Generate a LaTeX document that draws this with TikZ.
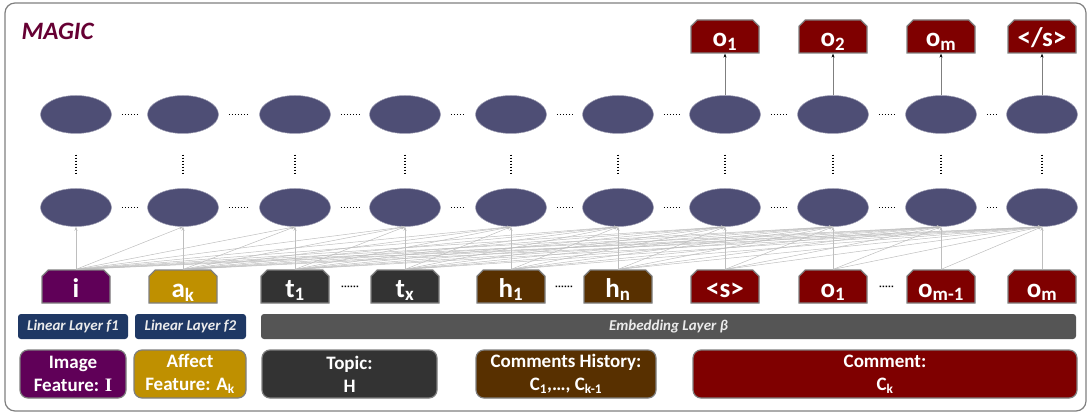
\documentclass[tikz,border=0pt]{standalone}
\usepackage{fontspec}
\setmainfont{Carlito}
\newfontfamily\serifI{Liberation Serif}
\usetikzlibrary{shapes.geometric}
\usetikzlibrary{shapes.misc}
\usetikzlibrary{arrows.meta}
\definecolor{cellfill}{RGB}{78,78,117}
\definecolor{imgcol}{RGB}{96,0,88}
\definecolor{affcol}{RGB}{191,144,0}
\definecolor{topcol}{RGB}{51,51,51}
\definecolor{histcol}{RGB}{88,48,0}
\definecolor{comcol}{RGB}{127,0,0}
\definecolor{lincol}{RGB}{31,56,100}
\definecolor{embcol}{RGB}{85,85,85}
\definecolor{framecol}{RGB}{127,127,127}
\definecolor{titlecol}{RGB}{102,0,51}
\definecolor{linkcol}{RGB}{190,190,190}
\newcommand{\sub}[1]{\textsubscript{#1}}
\tikzset{%
  cell/.style = {ellipse,fill=cellfill,draw=cellfill!55!white,line width=0.5,
        minimum width=71,minimum height=38,inner sep=0},
  tok/.style = {chamfered rectangle,
        chamfered rectangle corners={north west,north east},
        chamfered rectangle xsep=3,draw=framecol,line width=1.2,
        minimum width=68,minimum height=33,inner sep=0,text=white,
        text height=22,text depth=1,
        font=\bfseries\fontsize{27}{29}\selectfont},
  lin/.style = {rectangle,rounded corners=3,fill=lincol,minimum height=25,
        inner sep=0,text=white!92!black,
        font=\bfseries\itshape\fontsize{15}{17}\selectfont},
  emb/.style = {lin,fill=embcol},
  src/.style = {rectangle,rounded corners=8,draw=framecol,line width=1.2,
        minimum height=48,inner sep=0,text=white,align=center,
        font=\bfseries\fontsize{19}{23}\selectfont},
  link/.style = {linkcol,line width=0.5,-{Stealth[length=4,width=3]}},
  outarrow/.style = {framecol,line width=0.7,-{Stealth[length=4,width=3,black]}},
  hdots/.style = {line width=1.5,dash pattern=on 1.5 off 1.5,
        shorten <=10,shorten >=10},
  vdots/.style = {line width=1.5,dash pattern=on 1.5 off 1.5,
        shorten <=21,shorten >=15}
}

\begin{document}
\begin{tikzpicture}[x=1pt,y=-1pt]
    \useasboundingbox (0,0) rectangle (1089,414);
    \draw[framecol,line width=1.2,rounded corners=10] (5,3) rectangle (1086,411);
    \node[anchor=west,text=titlecol,font=\bfseries\itshape\fontsize{25}{27}\selectfont]
        (magic) at (18,31) {MAGIC};
    % two layers of cells
    \foreach \x [count=\i] in {76,183,295,405,511,618,725,833,941,1042} {
        \node[cell] (u\i) at (\x,114.5) {};
        \node[cell] (b\i) at (\x,207.5) {};
        \draw[vdots] (u\i) -- (b\i);
    }
    \foreach \i [evaluate=\i as \j using int(\i+1)] in {1,...,9} {
        \draw[hdots] (u\i) -- (u\j);
        \draw[hdots] (b\i) -- (b\j);
    }
    % input tokens
    \foreach \x/\lab/\col [count=\i] in {76/i/imgcol, 183/a\sub{k}/affcol,
            295/t\sub{1}/topcol, 405/t\sub{x}/topcol, 511/h\sub{1}/histcol,
            618/h\sub{n}/histcol, 725/<s>/comcol, 833/o\sub{1}/comcol,
            941/o\sub{m-1}/comcol, 1042/o\sub{m}/comcol} {
        \node[tok,fill=\col] (in\i) at (\x,286.5) {\lab};
    }
    \draw[hdots,shorten <=12,shorten >=12] (in3) -- (in4);
    \draw[hdots,shorten <=10,shorten >=10] (in5) -- (in6);
    \draw[hdots,shorten <=12,shorten >=12] (in8) -- (in9);
    % each token feeds its own cell and all cells after it
    \foreach \i in {1,...,10} {
        \foreach \j in {\i,...,10} {
            \draw[link] (in\i.north) -- (b\j.south);
        }
    }
    % outputs
    \foreach \x/\lab/\k in {725/o\sub{1}/7, 833/o\sub{2}/8,
            941/o\sub{m}/9, 1042/{</s>}/10} {
        \node[tok,fill=comcol] (out\k) at (\x,36.5) {\lab};
        \draw[outarrow] (u\k) -- (out\k);
    }
    % layers
    \node[lin,minimum width=110] (f1) at (73,326.5) {Linear Layer f1};
    \node[lin,minimum width=111] (f2) at (190.5,326.5) {Linear Layer f2};
    \node[emb,minimum width=815] (beta) at (668.5,326.5) {Embedding Layer β};
    % sources
    \node[src,fill=imgcol,minimum width=106] (img) at (73,374) {Image\\Feature: {\serifI I}};
    \node[src,fill=affcol,minimum width=112] (aff) at (190,374) {Affect\\Feature: A\sub{k}};
    \node[src,fill=topcol,minimum width=175] (topic) at (349.5,374) {Topic:\\H};
    \node[src,fill=histcol,minimum width=180] (hist) at (566,374) {Comments History:\\C\sub{1},\dots, C\sub{k-1}};
    \node[src,fill=comcol,minimum width=384] (com) at (885,374) {Comment:\\C\sub{k}};
\end{tikzpicture}
\end{document}
